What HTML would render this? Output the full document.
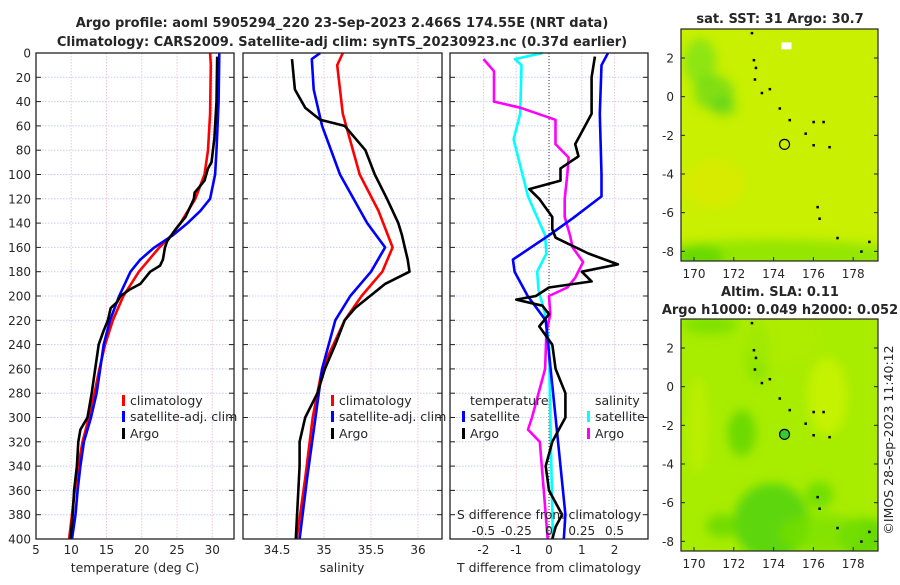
<!DOCTYPE html>
<html><head><meta charset="utf-8"><style>
body{margin:0;background:#fff;width:900px;height:580px;overflow:hidden}
svg text{font-family:"DejaVu Sans","Liberation Sans",sans-serif;fill:#262626}
</style></head><body>
<svg id="chart" width="900" height="580" xmlns="http://www.w3.org/2000/svg">
<defs>
<clipPath id="clipSst"><rect x="681" y="29" width="197" height="232"/></clipPath>
<clipPath id="clipSla"><rect x="681" y="319" width="197" height="232"/></clipPath>
<filter id="soft" x="-50%" y="-50%" width="200%" height="200%"><feGaussianBlur stdDeviation="5"/></filter>
</defs>
<text x="342" y="27" text-anchor="middle" font-weight="bold" font-size="13" fill="#000">Argo profile: aoml 5905294_220 23-Sep-2023 2.466S 174.55E (NRT data)</text>
<text x="342" y="46" text-anchor="middle" font-weight="bold" font-size="13" fill="#000">Climatology: CARS2009. Satellite-adj clim: synTS_20230923.nc (0.37d earlier)</text>
<text x="780" y="23" text-anchor="middle" font-weight="bold" font-size="13">sat. SST: 31 Argo: 30.7</text>
<text x="780" y="296" text-anchor="middle" font-weight="bold" font-size="13">Altim. SLA: 0.11</text>
<text x="780" y="314" text-anchor="middle" font-weight="bold" font-size="13">Argo h1000: 0.049 h2000: 0.052</text>
<text transform="translate(893,440) rotate(-90)" text-anchor="middle" font-size="12.5">©IMOS 28-Sep-2023 11:40:12</text>
</svg>
<script>
// ---- data ----
const depthTicks=[0,20,40,60,80,100,120,140,160,180,200,220,240,260,280,300,320,340,360,380,400];
const tempTicks=[5,10,15,20,25,30];
const salTicks=[34.5,35,35.5,36];
const dTTicks=[-2,-1,0,1,2];
const dSTickLabels=["-0.5","-0.25","0","0.25","0.5"];
const dSTicks=[-0.5,-0.25,0,0.25,0.5];
const climTDepth=[0,10,50,80,100,120,140,150,160,180,200,220,240,260,280,300,320,340,360,380,400];
const climTVal=[29.7,29.8,29.7,29.4,28.9,27.6,25.5,24.2,22.5,19.6,17.4,15.9,14.8,14.0,13.3,12.5,11.6,11.0,10.5,10.1,9.7];
const satTDepth=[0,40,80,100,120,130,140,150,160,170,180,200,220,240,260,280,300,320,340,360,380,400];
const satTVal=[31.0,30.9,30.6,30.4,29.7,28.3,26.5,24.4,21.8,19.8,18.4,16.8,15.5,14.6,14.1,13.6,12.8,11.8,11.3,10.9,10.6,10.1];
const argoTDepth=[3,40,60,70,90,95,105,110,115,120,135,145,155,160,170,175,180,190,195,200,205,210,220,230,240,260,280,300,305,310,320,340,360,380,400];
const argoTVal=[30.7,30.6,30.4,30.3,29.9,29.4,28.9,28.2,27.5,27.4,26.2,24.8,23.6,23.3,23.0,22.6,21.2,19.8,18.2,17.0,16.5,15.6,15.2,14.5,13.9,13.4,12.9,12.3,11.8,11.3,11.0,10.8,10.4,10.2,9.9];
const climSDepth=[0,10,50,100,130,160,180,200,220,260,300,350,400];
const climSVal=[35.2,35.14,35.2,35.38,35.58,35.73,35.62,35.4,35.22,34.98,34.88,34.8,34.71];
const satSDepth=[0,5,30,60,100,140,160,180,200,220,260,300,350,400];
const satSVal=[34.96,34.87,34.89,34.98,35.17,35.46,35.65,35.5,35.28,35.12,34.98,34.91,34.82,34.74];
const argoSDepth=[5,30,45,55,60,80,100,120,140,150,160,170,180,190,200,210,220,240,260,280,300,320,340,400];
const argoSVal=[34.66,34.69,34.8,34.96,35.22,35.44,35.54,35.67,35.79,35.83,35.86,35.89,35.91,35.65,35.49,35.33,35.22,35.12,35.01,34.93,34.8,34.74,34.74,34.70];
const satDTDepth=[0,10,50,100,118,136,150,170,180,200,220,260,300,340,380,400];
const satDTVal=[1.8,1.6,1.55,1.6,1.6,0.73,0,-1.1,-1.05,-0.65,-0.1,0.05,0.2,0.35,0.5,0.45];
const argoDTDepth=[3,20,50,60,75,85,95,105,112,120,135,145,152,165,174,180,188,193,200,203,208,215,225,240,260,280,300,320,340,360,380,390,400];
const argoDTVal=[1.4,1.3,1.3,1.1,0.8,0.9,0.35,0.35,-0.6,-0.3,0.1,0.1,0.2,1.2,2.1,1.0,1.3,0.0,-0.4,-1.0,-0.2,0,-0.3,0.1,0.2,0.5,0.5,0.1,-0.1,0.0,0.4,0.2,0.1];
const satDSDepth=[0,5,10,50,71,118,150,165,180,195,215,240,300,400];
const satDSVal=[-0.05,-0.26,-0.21,-0.22,-0.27,-0.16,-0.03,-0.02,-0.09,-0.08,-0.03,0,0.01,0.03];
const argoDSDepth=[5,15,40,45,55,75,86,100,120,135,150,160,172,185,193,200,215,230,260,300,310,320,400];
const argoDSVal=[-0.5,-0.42,-0.42,-0.22,0.05,0.05,0.15,0.14,0.12,0.12,0.16,0.18,0.26,0.2,0.14,0.0,0.01,-0.02,-0.03,-0.13,-0.16,-0.07,-0.01];
const mapLonTicks=[170,172,174,176,178];
const mapLatTicks=[2,0,-2,-4,-6,-8];
const argoLon=174.55, argoLat=-2.466;

// ---- layout ----
const S=document.getElementById('chart');
const NS='http://www.w3.org/2000/svg';
const TOP=53,BOT=539;
function yD(d){return TOP+d*(BOT-TOP)/400;}
const P1={x0:36,x1:234,f:T=>36+(T-5)*7.05};
const P2={x0:243,x1:442,f:s=>277+(s-34.5)*94};
const P3={x0:450,x1:648,f:t=>549+t*32.8,g:s=>549+s*131};
function el(tag,attrs,parent){const e=document.createElementNS(NS,tag);for(const k in attrs)e.setAttribute(k,attrs[k]);(parent||S).appendChild(e);return e;}
function txt(x,y,s,attrs){const e=el('text',Object.assign({x:x,y:y},attrs||{}));e.textContent=s;return e;}

function panelFrame(P,xt,fx,name){
  const g=el('g',{});
  
  
  el('rect',{x:P.x0,y:TOP,width:P.x1-P.x0,height:BOT-TOP,fill:'#fff'},g);
  depthTicks.forEach(d=>{ if(d>0&&d<400){const l=el('line',{x1:P.x0,x2:P.x1,y1:yD(d),y2:yD(d),stroke:'#c6cdf0','stroke-dasharray':'1.5,1.5','stroke-width':1},g);
    
    }});
  xt.forEach(v=>{const x=fx(v); if(x>P.x0+1&&x<P.x1-1){const l=el('line',{x1:x,x2:x,y1:TOP,y2:BOT,stroke:'#e8c8d0','stroke-dasharray':'1.5,1.5','stroke-width':1},g);
    
    }});
  depthTicks.forEach(d=>{el('line',{x1:P.x0,x2:P.x0+5,y1:yD(d),y2:yD(d),stroke:'#222'},g);el('line',{x1:P.x1-5,x2:P.x1,y1:yD(d),y2:yD(d),stroke:'#222'},g);});
  return g;
}
function frameBorder(P){const r=el('rect',{x:P.x0,y:TOP,width:P.x1-P.x0,height:BOT-TOP,fill:'none',stroke:'#222','stroke-width':1.3});
  
  }
function line(ds,vs,fx,color,name,w){
  const pts=ds.map((d,i)=>fx(vs[i]).toFixed(1)+','+yD(d).toFixed(1)).join(' ');
  const p=el('polyline',{points:pts,fill:'none',stroke:color,'stroke-width':w||2.6,'stroke-linejoin':'round'});
  
  
}

depthTicks.forEach(d=>{const t=txt(31,yD(d)+4.5,String(d),{'text-anchor':'end','font-size':12});
  
  });

// panel 1
panelFrame(P1,tempTicks,P1.f,'temperature-panel');
line(climTDepth,climTVal,P1.f,'#ff0000','climatology-temperature-line');
line(satTDepth,satTVal,P1.f,'#0000ff','satellite-temperature-line');
line(argoTDepth,argoTVal,P1.f,'#000000','argo-temperature-line');
frameBorder(P1);
tempTicks.forEach(v=>{const t=txt(P1.f(v),554,String(v),{'text-anchor':'middle','font-size':12});
  
  });
txt(135,572,'temperature (deg C)',{'text-anchor':'middle','font-size':12.5});

// panel 2
panelFrame(P2,salTicks,P2.f,'salinity-panel');
line(climSDepth,climSVal,P2.f,'#ff0000','climatology-salinity-line');
line(satSDepth,satSVal,P2.f,'#0000ff','satellite-salinity-line');
line(argoSDepth,argoSVal,P2.f,'#000000','argo-salinity-line');
frameBorder(P2);
salTicks.forEach(v=>{const t=txt(P2.f(v),554,String(v),{'text-anchor':'middle','font-size':12});
  
  });
txt(342,572,'salinity',{'text-anchor':'middle','font-size':12.5});

// panel 3
panelFrame(P3,dTTicks,P3.f,'difference-panel');
el('line',{x1:549,x2:549,y1:TOP,y2:BOT,stroke:'#333','stroke-dasharray':'1,2','stroke-width':1});
line(satDSDepth,satDSVal,P3.g,'#00ffff','satellite-salinity-diff-line');
line(argoDSDepth,argoDSVal,P3.g,'#ff00ff','argo-salinity-diff-line');
line(satDTDepth,satDTVal,P3.f,'#0000ff','satellite-temperature-diff-line');
line(argoDTDepth,argoDTVal,P3.f,'#000000','argo-temperature-diff-line');
frameBorder(P3);
dTTicks.forEach(v=>{const t=txt(P3.f(v),554,String(v),{'text-anchor':'middle','font-size':12});
  
  });
txt(549,572,'T difference from climatology',{'text-anchor':'middle','font-size':12.5});
txt(549,519,'S difference from climatology',{'text-anchor':'middle','font-size':12.5});
dSTicks.forEach((v,i)=>{const t=txt(P3.g(v),535,dSTickLabels[i],{'text-anchor':'middle','font-size':12});
  
  });

// legends
function legendEntry(x,y,color,label,name){
  const g=el('g',{});
  
  
  el('rect',{x:x,y:y-10,width:3,height:11,fill:color},g);
  const t=el('text',{x:x+8,y:y,'font-size':12.5},g);t.textContent=label;
}
legendEntry(122,405,'#ff0000','climatology','legend-climatology-temp');
legendEntry(122,421,'#0000ff','satellite-adj. clim','legend-satellite-temp');
legendEntry(122,438,'#000000','Argo','legend-argo-temp');
legendEntry(331,405,'#ff0000','climatology','legend-climatology-sal');
legendEntry(331,421,'#0000ff','satellite-adj. clim','legend-satellite-sal');
legendEntry(331,438,'#000000','Argo','legend-argo-sal');
txt(470,405,'temperature',{'font-size':12.5});
txt(595,405,'salinity',{'font-size':12.5});
legendEntry(462,421,'#0000ff','satellite','legend-satellite-tdiff');
legendEntry(462,438,'#000000','Argo','legend-argo-tdiff');
legendEntry(587,421,'#00ffff','satellite','legend-satellite-sdiff');
legendEntry(587,438,'#ff00ff','Argo','legend-argo-sdiff');

// ---- maps ----
function mapPanel(y0,y1,name,blobs,base,clip){
  const M={x0:681,x1:878,y0:y0,y1:y1};
  const lx=l=>694+(l-170)*19.9;
  const ly=a=>y0+(3.5-a)*(y1-y0)/12;
  const g=el('g',{});
  
  
  const inner=el('g',{'clip-path':'url(#'+clip+')'},g);
  el('rect',{x:M.x0,y:M.y0,width:M.x1-M.x0,height:M.y1-M.y0,fill:base},inner);
  const bg=el('g',{filter:'url(#soft)'},inner);
  blobs.forEach(b=>{el('ellipse',{cx:lx(b[0]),cy:ly(b[1]),rx:b[2]*19.9,ry:b[3]*19.4,fill:b[4],opacity:b[5]},bg);});
  if(name==='sst-map'){el('rect',{x:lx(174.7)-6,y:ly(2.6)-4,width:10,height:7,fill:'#fff'},inner);}
  [[172.9,3.3],[173,1.9],[173.1,1.5],[173.05,0.9],[173.4,0.2],[173.8,0.4],[174.3,-0.6],[174.8,-1.2],[175.6,-1.9],[176,-1.3],[176.5,-1.3],[176,-2.5],[176.8,-2.6],[176.2,-5.7],[176.3,-6.3],[177.2,-7.3],[178.4,-8.0],[178.8,-7.5]].forEach(c=>{
    el('rect',{x:lx(c[0])-1,y:ly(c[1])-1,width:2.5,height:2.5,fill:'#000'},inner);});
  const c=el('circle',{cx:lx(argoLon),cy:ly(argoLat),r:5,fill:name==='sla-map'?'#33cc33':'none',stroke:'#000','stroke-width':1.2},g);
  
  
  el('rect',{x:M.x0,y:M.y0,width:M.x1-M.x0,height:M.y1-M.y0,fill:'none',stroke:'#222','stroke-width':1.2},g);
  mapLatTicks.forEach(a=>{el('line',{x1:M.x0,x2:M.x0+4,y1:ly(a),y2:ly(a),stroke:'#222'},g);el('line',{x1:M.x1-4,x2:M.x1,y1:ly(a),y2:ly(a),stroke:'#222'},g);
    const t=txt(674,ly(a)+4.5,String(a),{'text-anchor':'end','font-size':12});
    
    });
  mapLonTicks.forEach(l=>{el('line',{x1:lx(l),x2:lx(l),y1:M.y1-4,y2:M.y1,stroke:'#222'},g);
    const t=txt(lx(l),y1+17,String(l),{'text-anchor':'middle','font-size':12});
    
    });
}
mapPanel(29,261,'sst-map',[
 [170.3,1.8,0.8,1.2,'#66dd22',0.6],[171,0.2,1,0.9,'#55d422',0.6],[171.5,-0.5,0.6,0.5,'#44cc22',0.5],
 [171,-4.5,1.6,1.3,'#e0e800',0.6],[174,-8.4,7,1.0,'#88e400',0.8],[170.3,-8.3,1.2,0.6,'#55d400',0.7]
],'#c8f000','clipSst');
mapPanel(319,551,'sla-map',[
 [170.8,3.2,1.4,0.5,'#77e000',0.8],[173.2,1.8,0.6,1.6,'#88e400',0.8],[172.4,-2.4,0.7,1.2,'#66d800',0.9],
 [173.9,-7,1.9,2.0,'#55d411',0.9],[171.4,-7.2,0.8,0.6,'#66d800',0.8],[176.3,-5.6,0.7,0.7,'#66dc00',0.8],[178.5,-7.8,1.3,1.0,'#55d400',0.8],[176.5,-7.6,2.2,1.0,'#77e000',0.7],
 [170.2,-2,0.5,2.5,'#c4f000',0.7],[176.7,-0.5,1,2,'#ccf400',0.8],[174.5,2.5,2,1.5,'#b4ee00',0.5]
],'#a8ec00','clipSla');
</script>
</body></html>
